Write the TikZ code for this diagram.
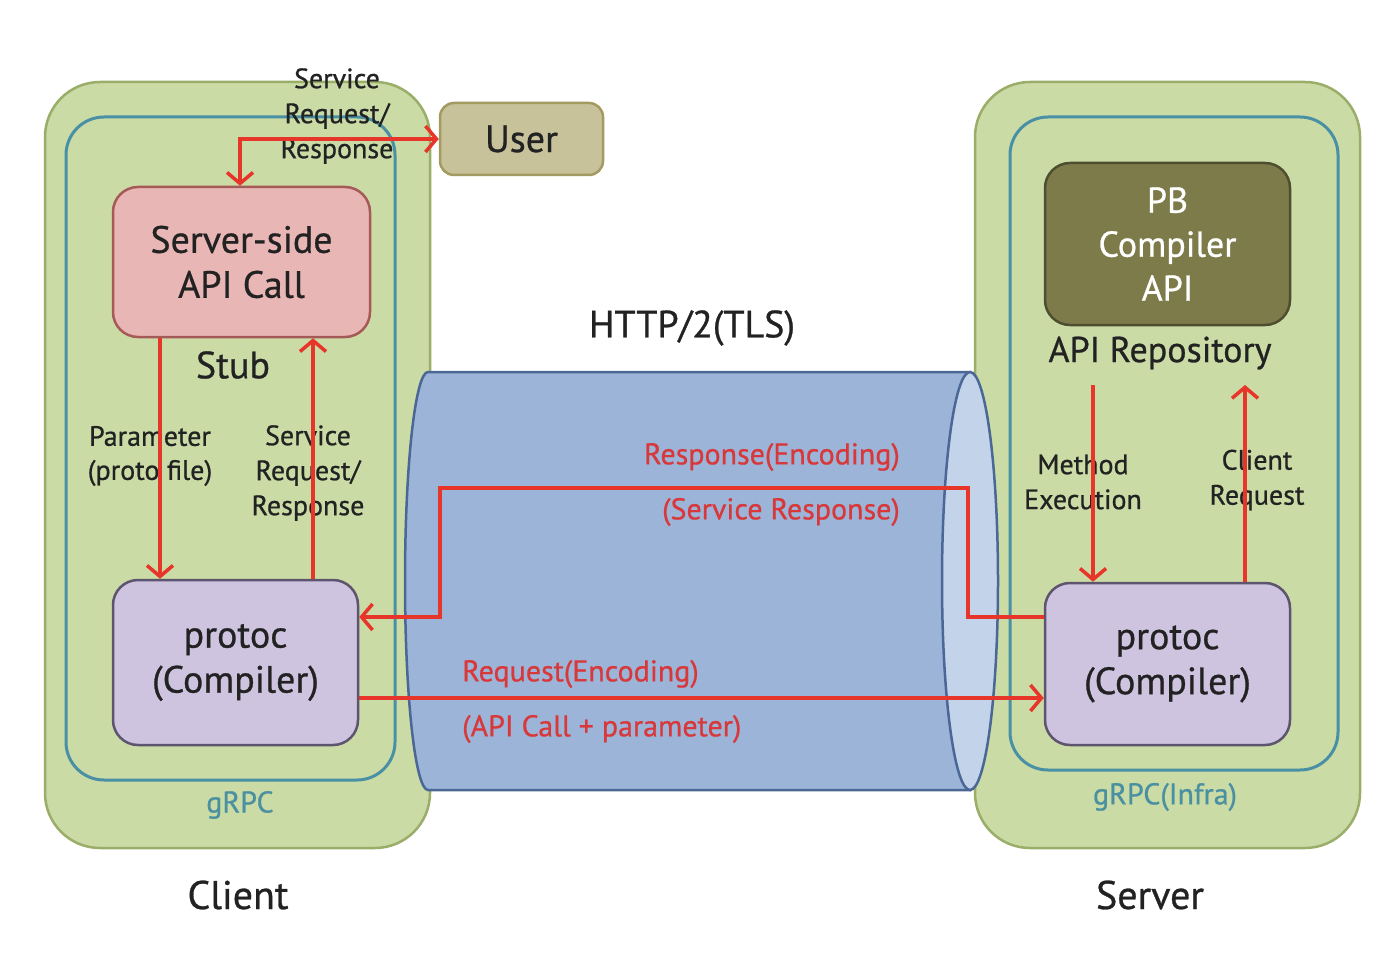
\documentclass[tikz,border=0pt]{standalone}
\usepackage{fontspec}
\setmainfont{PT Sans}[FakeBold=0.7]
\usetikzlibrary{arrows.meta}
\definecolor{gfill}{HTML}{CADBA5}
\definecolor{gdraw}{HTML}{9AAE6A}
\definecolor{teal2}{HTML}{4A90A4}
\definecolor{pinkf}{HTML}{E8B7B5}
\definecolor{pinkd}{HTML}{A65A58}
\definecolor{lavf}{HTML}{CEC4E0}
\definecolor{lavd}{HTML}{5D5470}
\definecolor{userf}{HTML}{C8C29A}
\definecolor{userd}{HTML}{A39A62}
\definecolor{pbf}{HTML}{7D7B4A}
\definecolor{pbd}{HTML}{4F4E30}
\definecolor{cylf}{HTML}{9CB4D8}
\definecolor{cylr}{HTML}{C3D3EA}
\definecolor{cyld}{HTML}{4A6796}
\definecolor{ared}{HTML}{E8352A}
\definecolor{tred}{HTML}{D9383A}
\definecolor{tdark}{HTML}{222222}
\definecolor{tteal}{HTML}{4A90A0}
\newcommand\fsz[2]{\fontsize{#1}{#2}\selectfont}
\begin{document}
\begin{tikzpicture}[x=1pt,y=-1pt,
  outerbox/.style={draw=gdraw,fill=gfill,line width=2.5pt,rounded corners=55pt},
  innerbox/.style={draw=teal2,line width=3pt,rounded corners=38pt},
  pbox/.style={line width=2.5pt,rounded corners=25pt,inner sep=0pt,align=center},
  lbl/.style={text=tdark,align=center,inner sep=0pt,font=\fsz{28}{35}},
  redlbl/.style={text=tred,inner sep=0pt,font=\fsz{30}{35}},
  rarrow/.style={draw=ared,line width=3.5pt,-{Straight Barb[length=11pt,width=26pt]}},
  rline/.style={draw=ared,line width=3.5pt}
]
\useasboundingbox (0,0) rectangle (1400,976);
\fill[white] (0,0) rectangle (1400,976);
% containers
\node (lout) [outerbox,minimum width=385pt,minimum height=766pt] at (237.5,465) {};
\node (lin) [innerbox,minimum width=329pt,minimum height=663pt] at (230.5,448.5) {};
\node (rout) [outerbox,minimum width=385pt,minimum height=766pt] at (1167.5,465) {};
\node (rin) [innerbox,minimum width=328pt,minimum height=653pt] at (1174,443.5) {};
% cylinder
\filldraw[fill=cylf,draw=cyld,line width=2.5pt] (428,372) -- (970,372) -- (970,790) -- (428,790)
  arc[start angle=90,end angle=270,x radius=23,y radius=209] -- cycle;
\filldraw[fill=cylr,draw=cyld,line width=2.5pt] (970,581) ellipse[x radius=28,y radius=209];
% boxes
\node (ss) [pbox,fill=pinkf,draw=pinkd,minimum width=257pt,minimum height=150pt,font=\fsz{38}{45},text=tdark] at (241.5,262) {Server-side\\API Call};
\node (lp) [pbox,fill=lavf,draw=lavd,minimum width=245pt,minimum height=165pt,font=\fsz{38}{45},text=tdark] at (235.5,662.5) {protoc\\(Compiler)};
\node (user) [pbox,fill=userf,draw=userd,minimum width=163pt,minimum height=72pt,rounded corners=14pt,font=\fsz{38}{45},text=tdark] at (521.5,139) {User};
\node (pb) [pbox,fill=pbf,draw=pbd,minimum width=245pt,minimum height=162pt,font=\fsz{36}{44},text=white] at (1167.5,244) {PB\\Compiler\\API};
\node (rp) [pbox,fill=lavf,draw=lavd,minimum width=245pt,minimum height=162pt,font=\fsz{38}{45},text=tdark] at (1167.5,664) {protoc\\(Compiler)};
% texts
\node (stub) [lbl,font=\fsz{38}{45}] at (233,365) {Stub};
\node (http) [lbl,font=\fsz{38}{45}] at (692,328) {HTTP/2(TLS)};
\node (repo) [lbl,font=\fsz{36}{44}] at (1160,353) {API Repository};
\node (ulbl) [lbl] at (337,116) {Service\\Request/\\Response};
\node (plbl) [lbl,font=\fsz{28}{34}] at (150,456) {Parameter\\(proto file)};
\node (slbl) [lbl] at (308,473) {Service\\Request/\\Response};
\node (mlbl) [lbl] at (1083,482) {Method\\Execution};
\node (clbl) [lbl] at (1257,480) {Client\\Request};
\node (resp1) [redlbl,anchor=east] at (900,457) {Response(Encoding)};
\node (resp2) [redlbl,anchor=east] at (900,512) {(Service Response)};
\node (req1) [redlbl,anchor=west] at (462,674) {Request(Encoding)};
\node (req2) [redlbl,anchor=west] at (462,729) {(API Call + parameter)};
\node (grpc) [lbl,text=tteal,font=\fsz{30}{35}] at (240,805) {gRPC};
\node (grpci) [lbl,text=tteal,font=\fsz{30}{35}] at (1165,797) {gRPC(Infra)};
\node (client) [lbl,font=\fsz{40}{45}] at (238,895) {Client};
\node (server) [lbl,font=\fsz{40}{45}] at (1150,895) {Server};
% helper coordinates
\coordinate (px) at (160,0);
\coordinate (sx) at (313,0);
\coordinate (ux) at (240,0);
\coordinate (r1) at (968,488);
\coordinate (r2) at (440,488);
\coordinate (ry) at (0,617);
\coordinate (qy) at (0,698);
\coordinate (m1) at (1093,385);
\coordinate (c1) at (1245,385);
% connectors
\draw[rarrow] (px |- ss.south) -- (px |- lp.north);
\draw[rarrow] (sx |- lp.north) -- (sx |- ss.south);
\draw[rline,{Straight Barb[length=11pt,width=26pt]}-{Straight Barb[length=11pt,width=26pt]}] (ux |- ss.north) -- (ux |- user.west) -- (user.west);
\draw[rarrow] (ry -| rp.west) -- (ry -| r1) -- (r1) -- (r2) -- (ry -| r2) -- (ry -| lp.east);
\draw[rarrow] (qy -| lp.east) -- (qy -| rp.west);
\draw[rarrow] (m1) -- (m1 |- rp.north);
\draw[rarrow] (c1 |- rp.north) -- (c1);
\end{tikzpicture}
\end{document}
